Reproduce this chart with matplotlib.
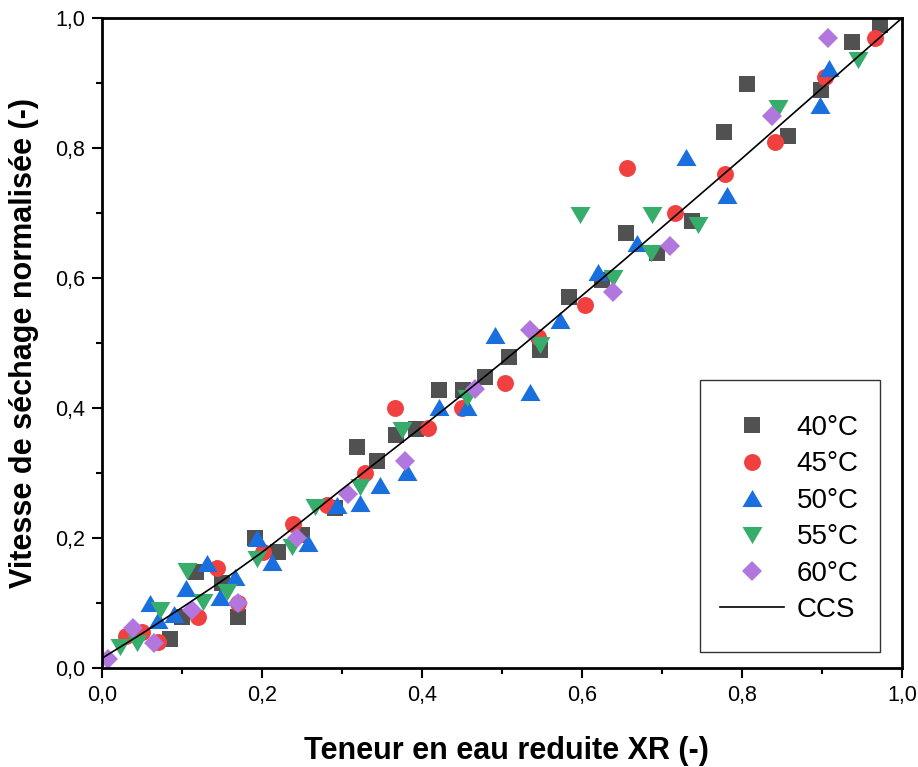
import matplotlib
matplotlib.use("Agg")
import matplotlib.pyplot as plt
from matplotlib.ticker import MultipleLocator, FixedLocator
from matplotlib.patches import Rectangle

plt.rcParams['font.family'] = ['Liberation Sans', 'DejaVu Sans']

# ---- data ----
x40 = [0.085, 0.10, 0.118, 0.15, 0.17, 0.191, 0.22, 0.25, 0.291, 0.319, 0.344, 0.368, 0.393, 0.421,
       0.451, 0.479, 0.509, 0.548, 0.584, 0.625, 0.655, 0.694, 0.738, 0.778, 0.806, 0.858, 0.899,
       0.937, 0.973]
y40 = [0.045, 0.078, 0.148, 0.131, 0.078, 0.20, 0.178, 0.205, 0.246, 0.34, 0.318, 0.358, 0.368, 0.428,
       0.428, 0.448, 0.478, 0.489, 0.571, 0.597, 0.669, 0.638, 0.688, 0.825, 0.898, 0.818, 0.889,
       0.963, 0.989]

x45 = [0.03, 0.05, 0.07, 0.12, 0.144, 0.17, 0.201, 0.239, 0.281, 0.329, 0.366, 0.408, 0.45, 0.504,
       0.545, 0.604, 0.656, 0.716, 0.779, 0.841, 0.904, 0.966]
y45 = [0.05, 0.055, 0.04, 0.078, 0.154, 0.10, 0.178, 0.222, 0.251, 0.30, 0.40, 0.369, 0.40, 0.438,
       0.509, 0.558, 0.769, 0.70, 0.76, 0.809, 0.909, 0.969]

x50 = [0.06, 0.07, 0.09, 0.105, 0.131, 0.1475, 0.166, 0.194, 0.2125, 0.2575, 0.294, 0.3225, 0.3475,
       0.381, 0.421, 0.456, 0.491, 0.535, 0.5725, 0.62, 0.669, 0.73, 0.781, 0.8975, 0.909]
y50 = [0.10, 0.074, 0.083, 0.123, 0.161, 0.109, 0.14, 0.20, 0.163, 0.192, 0.251, 0.254, 0.282,
       0.302, 0.402, 0.402, 0.512, 0.425, 0.535, 0.61, 0.654, 0.786, 0.728, 0.866, 0.923]

x55 = [0.0225, 0.044, 0.0725, 0.106, 0.126, 0.156, 0.194, 0.2375, 0.266, 0.3225, 0.375, 0.456,
       0.5475, 0.5975, 0.639, 0.686, 0.6875, 0.745, 0.845, 0.945]
y55 = [0.033, 0.039, 0.089, 0.15, 0.102, 0.117, 0.168, 0.186, 0.248, 0.278, 0.366, 0.415,
       0.497, 0.697, 0.60, 0.638, 0.697, 0.682, 0.862, 0.935]

x60 = [0.008, 0.039, 0.065, 0.112, 0.17, 0.244, 0.307, 0.379, 0.466, 0.535, 0.639, 0.71, 0.8375, 0.9075]
y60 = [0.014, 0.061, 0.039, 0.089, 0.10, 0.20, 0.268, 0.318, 0.429, 0.52, 0.578, 0.649, 0.849, 0.969]

x_ccs = [0, 0.05, 0.1, 0.15, 0.2, 0.25, 0.3, 0.35, 0.4, 0.45, 0.5, 0.55, 0.6, 0.65, 0.7, 0.75,
         0.8, 0.85, 0.9, 0.95, 1.0]
y_ccs = [0.015, 0.053, 0.093, 0.134, 0.178, 0.226, 0.275, 0.323, 0.371, 0.42, 0.47, 0.521, 0.573,
         0.625, 0.678, 0.731, 0.784, 0.838, 0.892, 0.946, 1.0]

labels = ['40°C', '45°C', '50°C', '55°C', '60°C', 'CCS']
tick_vals = [0.0, 0.2, 0.4, 0.6, 0.8, 1.0]
tick_labels = ['0,0', '0,2', '0,4', '0,6', '0,8', '1,0']

# ---- figure ----
fig = plt.figure(figsize=(9.18, 7.67), dpi=100)
ax = fig.add_axes([102 / 918, 99 / 767, 800 / 918, 650 / 767])

tri_up = [(-1.17, -1), (1.17, -1), (0, 1)]
tri_dn = [(-1.17, 1), (1.17, 1), (0, -1)]

ax.plot(x40, y40, linestyle='none', marker='s', ms=11.5, color='#515151', mew=0, label=labels[0])
ax.plot(x45, y45, linestyle='none', marker='o', ms=12.2, color='#F14040', mew=0, label=labels[1])
ax.plot(x50, y50, linestyle='none', marker=tri_up, ms=14.4, color='#1A6FDF', mew=0, label=labels[2])
ax.plot(x55, y55, linestyle='none', marker=tri_dn, ms=14.4, color='#37AD6B', mew=0, label=labels[3])
ax.plot(x60, y60, linestyle='none', marker='D', ms=10.2, color='#B177DE', mew=0, label=labels[4])
ax.plot(x_ccs, y_ccs, color='black', lw=1.2, label=labels[5])

ax.set_xlim(0, 1)
ax.set_ylim(0, 1)
ax.xaxis.set_major_locator(FixedLocator(tick_vals))
ax.yaxis.set_major_locator(FixedLocator(tick_vals))
ax.set_xticklabels(tick_labels)
ax.set_yticklabels(tick_labels)
ax.xaxis.set_minor_locator(MultipleLocator(0.1))
ax.yaxis.set_minor_locator(MultipleLocator(0.1))
ax.tick_params(which='major', direction='out', length=7, width=1.5, labelsize=15.5, pad=5)
ax.tick_params(which='minor', direction='out', length=4, width=1.5)
for s in ax.spines.values():
    s.set_linewidth(2.0)

ax.set_xlabel('Teneur en eau reduite XR (-)', fontsize=22, fontweight='bold')
ax.xaxis.set_label_coords(0.506, -0.104)
ax.set_ylabel('Vitesse de séchage normalisée (-)', fontsize=22, fontweight='bold', labelpad=12)

# legend frame (drawn separately for uneven padding)
box = Rectangle(((700 - 102) / 800, (668 - 652) / 650), (880 - 700) / 800, (652 - 380) / 650,
                transform=ax.transAxes, facecolor='white', edgecolor='#333333', lw=1.0, zorder=4)
ax.add_patch(box)
leg = ax.legend(loc='upper left', bbox_to_anchor=((720 - 102) / 800, (668 - 415) / 650),
                fontsize=20, frameon=False,
                borderpad=0, labelspacing=0.375, handlelength=2.3, handletextpad=0.45,
                borderaxespad=0, numpoints=1)
leg.set_zorder(5)

fig.savefig('out.png', dpi=100)
